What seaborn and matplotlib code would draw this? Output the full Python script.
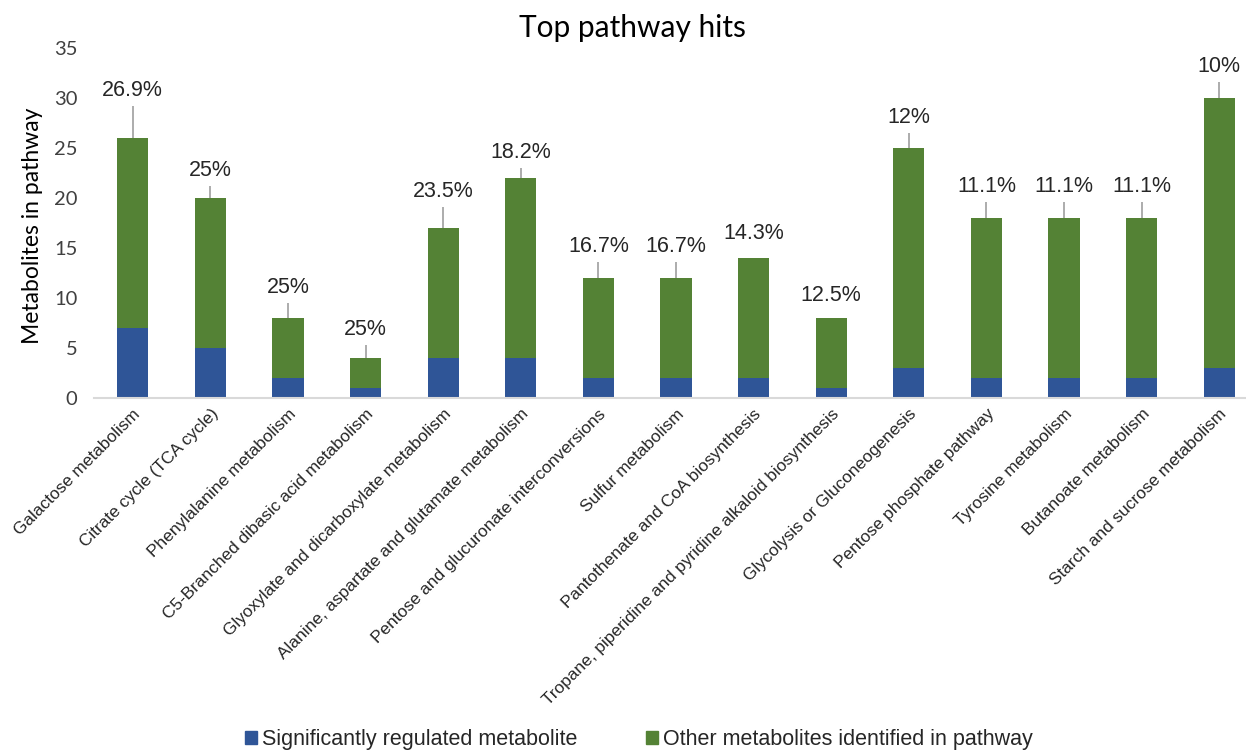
import matplotlib
matplotlib.use("Agg")
import matplotlib.pyplot as plt
from matplotlib.patches import Patch
import seaborn as sns
import pandas as pd

# Pathway data
pathways = [
    "Galactose metabolism",
    "Citrate cycle (TCA cycle)",
    "Phenylalanine metabolism",
    "C5-Branched dibasic acid metabolism",
    "Glyoxylate and dicarboxylate metabolism",
    "Alanine, aspartate and glutamate metabolism",
    "Pentose and glucuronate interconversions",
    "Sulfur metabolism",
    "Pantothenate and CoA biosynthesis",
    "Tropane, piperidine and pyridine alkaloid biosynthesis",
    "Glycolysis or Gluconeogenesis",
    "Pentose phosphate pathway",
    "Tyrosine metabolism",
    "Butanoate metabolism",
    "Starch and sucrose metabolism",
]
significant = [7, 5, 2, 1, 4, 4, 2, 2, 2, 1, 3, 2, 2, 2, 3]
other = [19, 15, 6, 3, 13, 18, 10, 10, 12, 7, 22, 16, 16, 16, 27]
pct_labels = ["26.9%", "25%", "25%", "25%", "23.5%", "18.2%", "16.7%", "16.7%",
              "14.3%", "12.5%", "12%", "11.1%", "11.1%", "11.1%", "10%"]

# Label placement: height of each percentage label above its bar (data units)
label_lift = [4.7, 2.7, 3.0, 2.8, 3.6, 2.5, 3.1, 3.1, 2.4, 2.2, 3.0, 3.1, 3.1, 3.1, 3.1]

BLUE = "#2F5597"
GREEN = "#548235"

df = pd.DataFrame({"pathway": pathways, "sig": significant, "other": other})
df["total"] = df["sig"] + df["other"]

sns.set_theme(style="white")
plt.rcParams["font.family"] = ["Liberation Sans", "DejaVu Sans"]

fig = plt.figure(figsize=(12.46, 7.52), dpi=100)
ax = fig.add_axes([94 / 1246, 1 - 398 / 752, (1258 - 94) / 1246, (398 - 47.7) / 752])

# Stacked bars: total in green, significant part overlaid in blue at the base
sns.barplot(data=df, x="pathway", y="total", color=GREEN, width=0.4,
            saturation=1, linewidth=0, ax=ax, order=pathways)
sns.barplot(data=df, x="pathway", y="sig", color=BLUE, width=0.4,
            saturation=1, linewidth=0, ax=ax, order=pathways)

ax.set_xlim(-0.5, 14.5)
ax.set_ylim(0, 35)
ax.set_yticks(range(0, 36, 5))
for s in ["top", "right", "left"]:
    ax.spines[s].set_visible(False)
ax.spines["bottom"].set_color("#d9d9d9")
ax.spines["bottom"].set_linewidth(1.5)
ax.tick_params(axis="both", length=0)
ax.tick_params(axis="y", pad=12)

for t in ax.get_yticklabels():
    t.set_fontfamily(["Lato", "DejaVu Sans"])
    t.set_fontsize(14.5)
    t.set_color("#404040")

ax.set_xticks(range(len(pathways)))
ax.set_xticklabels(pathways, rotation=45, ha="right", rotation_mode="anchor",
                   fontsize=12.4, color="#262626")
ax.tick_params(axis="x", pad=6)
for t in ax.get_xticklabels():
    t.set_fontfamily(["Liberation Sans", "DejaVu Sans"])

ax.set_xlabel("")
ax.set_ylabel("Metabolites in pathway", fontsize=16.5, color="#000000",
              fontfamily=["Lato", "DejaVu Sans"], va="center")
ax.yaxis.set_label_coords((33 - 94) / 1164, (398 - 226) / 350.3)

# Percentage labels with leader lines
for i, (tot, lab, lift) in enumerate(zip(df["total"], pct_labels, label_lift)):
    ly = tot + lift
    ax.text(i, ly, lab, ha="center", va="center", fontsize=15.5, color="#262626",
            fontfamily=["Liberation Sans", "DejaVu Sans"])
    if lift > 2.45:
        ax.plot([i, i], [tot, ly - 1.5], color="#a6a6a6", lw=1.3,
                solid_capstyle="butt", zorder=1)

fig.text(632 / 1246, 1 - 28 / 752, "Top pathway hits", ha="center", va="center",
         fontsize=21.5, fontfamily=["Lato", "DejaVu Sans"], color="#000000")

handles = [Patch(color=BLUE, label="Significantly regulated metabolite"),
           Patch(color=GREEN, label="Other metabolites identified in pathway")]
fig.legend(handles=handles, loc="center", bbox_to_anchor=(639 / 1246, 1 - 740 / 752),
           ncol=2, frameon=False, handlelength=0.55, handleheight=0.55,
           handletextpad=0.25, columnspacing=3.2,
           prop={"family": ["Liberation Sans", "DejaVu Sans"], "size": 15.5})

fig.savefig("out.png", dpi=100)
